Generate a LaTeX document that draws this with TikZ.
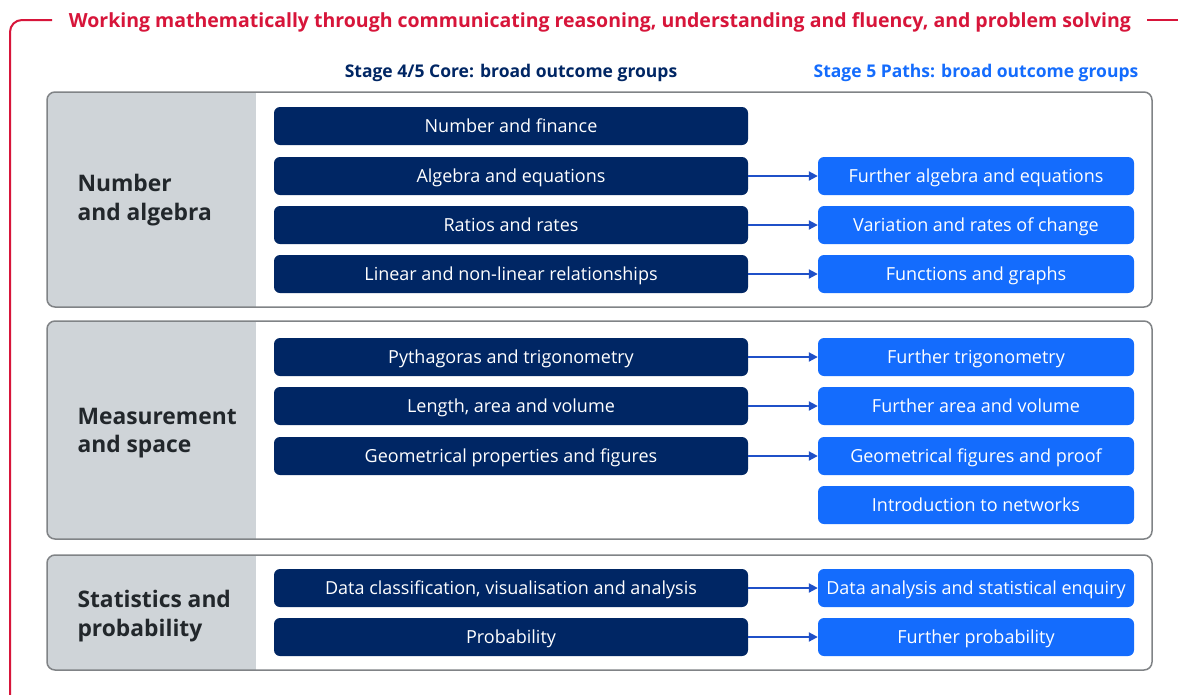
\documentclass[tikz,border=0pt]{standalone}
\usepackage{fontspec}
\setmainfont{Open Sans}
\usetikzlibrary{arrows.meta}
\definecolor{navy}{HTML}{002664}
\definecolor{nswblue}{HTML}{146CFD}
\definecolor{nswred}{HTML}{D7153A}
\definecolor{panelgray}{HTML}{CFD4D8}
\definecolor{bordergray}{HTML}{808386}
\definecolor{labeltext}{HTML}{22272B}
\definecolor{arrowblue}{HTML}{1F50C8}
\tikzset{
  boxtext/.style={text height=12.6pt, text depth=0pt, inner sep=0pt, font=\fontsize{18}{21}\selectfont},
  corebox/.style={boxtext, rectangle, rounded corners=6pt, fill=navy, text=white, minimum width=474pt, minimum height=38pt},
  pathbox/.style={boxtext, rectangle, rounded corners=6pt, fill=nswblue, text=white, minimum width=316pt, minimum height=38pt},
  grouplabel/.style={anchor=west, align=left, text=labeltext, font=\fontsize{22.8}{28.5}\selectfont\bfseries},
  arr/.style={draw=arrowblue, line width=2pt, -{Triangle[length=9pt,width=9pt]}},
  heading/.style={text height=12.5pt, text depth=0pt, inner sep=0pt, font=\fontsize{17.5}{20}\selectfont\bfseries},
}
\begin{document}
\begin{tikzpicture}[x=1pt,y=-1pt]
\useasboundingbox (0,0) rectangle (1178,694);
\clip (0,0) rectangle (1178,694);
\fill[white] (0,0) rectangle (1178,694);
% red frame
\node[text=nswred, text height=13.5pt, text depth=0pt, inner sep=0pt, font=\fontsize{19.5}{22}\selectfont\bfseries] (title) at (600,21) {Working mathematically through communicating reasoning, understanding and fluency, and problem solving};
\draw[nswred, line width=2pt, rounded corners=12pt] (52,20) -- (10,20) -- (10,706) -- (200,706);
\draw[nswred, line width=2pt] (1147,20) -- (1180,20);
% headings
\node[heading, text=navy] (h1) at (511,71) {Stage 4/5 Core: broad outcome groups};
\node[heading, text=nswblue] (h2) at (976,71) {Stage 5 Paths: broad outcome groups};
% panels
\foreach \ya/\yb in {92/307, 321/539, 555/670}{
  \fill[white, rounded corners=8pt] (47,\ya) rectangle (1152,\yb);
  \begin{scope}
    \clip[rounded corners=8pt] (47,\ya) rectangle (1152,\yb);
    \fill[panelgray] (47,\ya) rectangle (256,\yb);
  \end{scope}
  \draw[bordergray, line width=1.5pt, rounded corners=8pt] (47,\ya) rectangle (1152,\yb);
}
% group labels
\node[grouplabel] (g1) at (74,200) {Number\\and algebra};
\node[grouplabel] (g2) at (74,433) {Measurement\\and space};
\node[grouplabel] (g3) at (74,616) {Statistics and\\probability};
% core boxes
\node[corebox] (c1) at (511,126) {Number and finance};
\node[corebox] (c2) at (511,176) {Algebra and equations};
\node[corebox] (c3) at (511,225) {Ratios and rates};
\node[corebox] (c4) at (511,274) {Linear and non-linear relationships};
\node[corebox] (c5) at (511,357) {Pythagoras and trigonometry};
\node[corebox] (c6) at (511,406) {Length, area and volume};
\node[corebox] (c7) at (511,456) {Geometrical properties and figures};
\node[corebox] (c8) at (511,588) {Data classification, visualisation and analysis};
\node[corebox] (c9) at (511,637) {Probability};
% path boxes
\node[pathbox] (p2) at (976,176) {Further algebra and equations};
\node[pathbox] (p3) at (976,225) {Variation and rates of change};
\node[pathbox] (p4) at (976,274) {Functions and graphs};
\node[pathbox] (p5) at (976,357) {Further trigonometry};
\node[pathbox] (p6) at (976,406) {Further area and volume};
\node[pathbox] (p7) at (976,456) {Geometrical figures and proof};
\node[pathbox] (p7b) at (976,505) {Introduction to networks};
\node[pathbox] (p8) at (976,588) {Data analysis and statistical enquiry};
\node[pathbox] (p9) at (976,637) {Further probability};
% arrows
\foreach \a/\b in {c2/p2, c3/p3, c4/p4, c5/p5, c6/p6, c7/p7, c8/p8, c9/p9}{
  \draw[arr] (\a.east) -- (\b.west);
}
\end{tikzpicture}
\end{document}
